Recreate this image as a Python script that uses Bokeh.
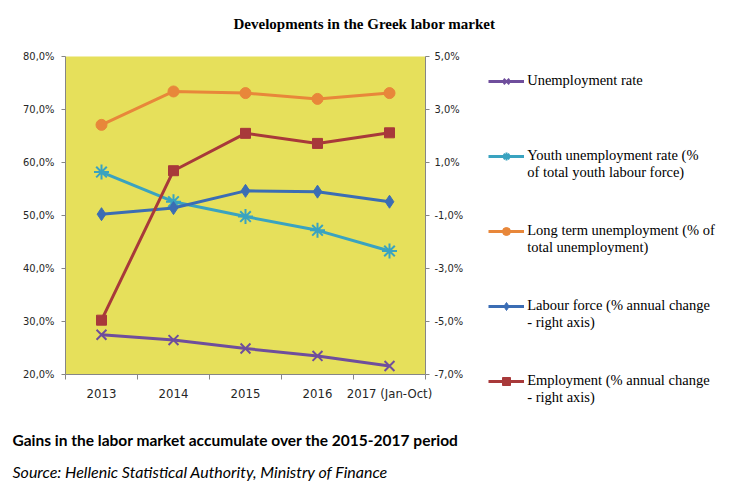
from bokeh.plotting import figure
from bokeh.models import (Range1d, LinearAxis, FixedTicker, Legend, LegendItem, Title)
from bokeh.embed import file_html
from bokeh.resources import INLINE

# ---- data ----
years = ["2013", "2014", "2015", "2016", "2017 (Jan-Oct)"]
unemployment = [27.5, 26.5, 24.9, 23.5, 21.6]          # left axis, %
youth_unemployment = [58.2, 52.6, 49.8, 47.2, 43.3]    # left axis, %
long_term_unemployment = [67.1, 73.4, 73.1, 72.0, 73.1]  # left axis, %
labour_force = [-0.95, -0.72, -0.07, -0.10, -0.48]     # right axis, %
employment = [-4.95, 0.69, 2.10, 1.72, 2.12]           # right axis, %

left_ticks = [20, 30, 40, 50, 60, 70, 80]
left_tick_labels = ["20,0%", "30,0%", "40,0%", "50,0%", "60,0%", "70,0%", "80,0%"]
right_ticks = [-7, -5, -3, -1, 1, 3, 5]
right_tick_labels = ["-7,0%", "-5,0%", "-3,0%", "-1,0%", "1,0%", "3,0%", "5,0%"]

series_names = [
    " \nUnemployment rate\n ",
    " \nYouth unemployment rate (%\nof total youth labour force)",
    " \nLong term unemployment (% of\ntotal unemployment)",
    " \nLabour force (% annual change\n- right axis)",
    " \nEmployment (% annual change\n- right axis)",
]
title_text = "Developments in the Greek labor market"
note_text = "Gains in the labor market accumulate over the 2015-2017 period"
source_text = "Source: Hellenic Statistical Authority, Ministry of Finance"

xs = list(range(len(years)))

TICK_FONT = "DejaVu Sans Condensed, Liberation Sans Narrow, sans-serif"
SERIF = "Liberation Serif"

p = figure(frame_width=360, frame_height=318,
           min_border_left=65, min_border_right=303,
           min_border_top=56, min_border_bottom=117,
           x_range=Range1d(-0.5, len(years) - 0.5),
           y_range=Range1d(20, 80),
           output_backend="svg", toolbar_location=None,
           background_fill_color="#E6E05B", border_fill_color="white")
p.outline_line_color = None
p.xgrid.visible = False
p.ygrid.visible = False
p.extra_y_ranges = {"right": Range1d(-7, 5)}

# x axis: labels at centres, tick marks at category boundaries
xa = p.xaxis[0]
xa.ticker = FixedTicker(ticks=xs, minor_ticks=[i - 0.5 for i in range(len(years) + 1)])
xa.major_label_overrides = {i: y for i, y in enumerate(years)}
xa.major_tick_line_color = None
xa.minor_tick_in = 0
xa.minor_tick_out = 5
xa.minor_tick_line_color = "#868686"
xa.axis_line_color = "#868686"
xa.major_label_text_font = TICK_FONT
xa.major_label_text_font_size = "13px"
xa.major_label_text_color = "#262626"
xa.major_label_standoff = 5

ya = p.yaxis[0]
ya.ticker = FixedTicker(ticks=left_ticks)
ya.major_label_overrides = {t: l for t, l in zip(left_ticks, left_tick_labels)}
ya.minor_tick_line_color = None
ya.major_tick_in = 0
ya.major_tick_out = 4
ya.major_tick_line_color = "#868686"
ya.axis_line_color = "#868686"
ya.major_label_text_font = TICK_FONT
ya.major_label_text_font_size = "11px"
ya.major_label_text_color = "#262626"
ya.major_label_standoff = 7

ra = LinearAxis(y_range_name="right", ticker=FixedTicker(ticks=right_ticks))
ra.major_label_overrides = {t: l for t, l in zip(right_ticks, right_tick_labels)}
ra.minor_tick_line_color = None
ra.major_tick_in = 0
ra.major_tick_out = 4
ra.major_tick_line_color = "#868686"
ra.axis_line_color = "#868686"
ra.major_label_text_font = TICK_FONT
ra.major_label_text_font_size = "11px"
ra.major_label_text_color = "#262626"
ra.major_label_standoff = 5
p.add_layout(ra, "right")

colors = ["#6F4E9C", "#3AA3C0", "#E8873A", "#3B6DB4", "#A8393A"]
items = []

def add_series(vals, color, marker, size, name, right=False):
    kw = {"y_range_name": "right"} if right else {}
    lr = p.line(xs, vals, line_color=color, line_width=3, **kw)
    if marker in ("x", "asterisk"):
        sr = p.scatter(xs, vals, marker=marker, size=size, line_color=color,
                       line_width=2, fill_color=color, **kw)
    else:
        sr = p.scatter(xs, vals, marker=marker, size=size, line_color=color,
                       fill_color=color, **kw)
    items.append(LegendItem(label=name, renderers=[lr, sr]))

add_series(unemployment, colors[0], "x", 14, series_names[0])
add_series(youth_unemployment, colors[1], "asterisk", 15, series_names[1])
add_series(long_term_unemployment, colors[2], "circle", 11, series_names[2])
add_series(labour_force, colors[3], "diamond", 13, series_names[3], right=True)
add_series(employment, colors[4], "square", 10, series_names[4], right=True)

legend = Legend(items=items, location=(-210, -32), border_line_color=None,
                background_fill_alpha=0, label_text_font=SERIF,
                label_text_font_size="14.5px", label_text_color="#000000",
                label_text_line_height=1.25,
                glyph_width=36, label_standoff=3, spacing=24,
                margin=0, padding=0)
p.add_layout(legend, "right")

p.add_layout(Title(text=title_text + "\n ", align="left", offset=168, standoff=18,
                   vertical_align="bottom",
                   text_font=SERIF, text_font_style="bold",
                   text_font_size="15px", text_color="#000000"), "above")
p.add_layout(Title(text=" \n" + note_text, align="left", offset=-53, standoff=14,
                   vertical_align="bottom",
                   text_font="Lato", text_font_style="bold",
                   text_font_size="15.5px", text_color="#000000"), "below")
p.add_layout(Title(text=source_text, align="left", offset=-53, standoff=9,
                   text_font="Lato", text_font_style="italic",
                   text_font_size="16px", text_color="#000000"), "below")

open("out.html", "w").write(file_html(p, INLINE))
